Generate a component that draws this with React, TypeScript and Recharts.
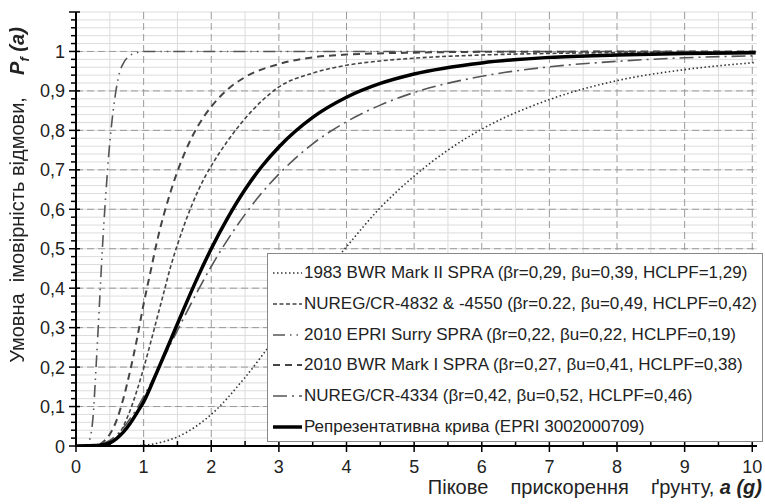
import React from 'react'
import { LineChart, Line, XAxis, YAxis, CartesianGrid } from 'recharts'

// 1983 BWR Mark II SPRA
const mk2X = [0, 0.8, 1, 1.25, 1.5, 1.75, 2, 2.5, 3, 3.5, 4, 4.5, 5, 5.5, 6, 7, 8, 9, 10.05]
const mk2Y = [0, 0.0005, 0.002, 0.009, 0.023, 0.047, 0.08, 0.174, 0.286, 0.4, 0.505, 0.604, 0.684, 0.75, 0.803, 0.878, 0.926, 0.954, 0.972]

// NUREG/CR-4832 & -4550
const nurX = [0, 0.4, 0.5, 0.6, 0.7, 0.8, 0.9, 1, 1.1, 1.2, 1.3, 1.4, 1.5, 1.6, 1.7, 1.8, 1.9, 2, 2.25, 2.5, 2.75, 3, 3.5, 4, 4.5, 5, 6, 7, 8, 10.05]
const nurY = [0, 0, 0.005, 0.02, 0.05, 0.09, 0.14, 0.197, 0.26, 0.325, 0.39, 0.455, 0.51, 0.56, 0.605, 0.645, 0.68, 0.71, 0.775, 0.83, 0.875, 0.91, 0.945, 0.965, 0.976, 0.983, 0.991, 0.995, 0.997, 0.999]

// 2010 EPRI Surry SPRA
const surX = [0, 0.1, 0.15, 0.2, 0.25, 0.3, 0.35, 0.4, 0.45, 0.5, 0.55, 0.6, 0.65, 0.7, 0.8, 0.9, 1, 2, 5, 10.05]
const surY = [0, 0, 0.002, 0.015, 0.07, 0.21, 0.37, 0.53, 0.66, 0.77, 0.85, 0.91, 0.95, 0.97, 0.99, 0.997, 1, 1, 1, 1]

// 2010 BWR Mark I SPRA
const mk1X = [0, 0.3, 0.4, 0.5, 0.6, 0.7, 0.8, 0.9, 1, 1.1, 1.2, 1.4, 1.6, 1.8, 2, 2.25, 2.5, 3, 3.5, 4, 5, 6, 10.05]
const mk1Y = [0, 0.002, 0.01, 0.03, 0.065, 0.12, 0.19, 0.27, 0.36, 0.44, 0.52, 0.645, 0.74, 0.81, 0.86, 0.905, 0.935, 0.968, 0.985, 0.992, 0.997, 0.999, 1]

// NUREG/CR-4334
const n4334X = [0, 0.3, 0.4, 0.5, 0.6, 0.7, 0.8, 0.9, 1, 1.2, 1.4, 1.6, 1.8, 2, 2.25, 2.5, 2.75, 3, 3.5, 4, 4.5, 5, 6, 7, 8, 9, 10.05]
const n4334Y = [0, 0.002, 0.006, 0.014, 0.028, 0.046, 0.069, 0.095, 0.125, 0.19, 0.259, 0.327, 0.393, 0.455, 0.525, 0.587, 0.642, 0.689, 0.766, 0.822, 0.864, 0.896, 0.937, 0.961, 0.975, 0.984, 0.989]

// Репрезентативна крива (EPRI 3002000709)
const repX = [0, 0.3, 0.4, 0.5, 0.6, 0.7, 0.8, 0.9, 1, 1.2, 1.4, 1.6, 1.8, 2, 2.25, 2.5, 2.75, 3, 3.5, 4, 4.5, 5, 6, 7, 8, 9, 10.05]
const repY = [0, 0.001, 0.003, 0.008, 0.019, 0.035, 0.057, 0.084, 0.112, 0.189, 0.269, 0.35, 0.428, 0.5, 0.58, 0.65, 0.709, 0.758, 0.833, 0.884, 0.919, 0.943, 0.971, 0.985, 0.991, 0.995, 0.997]

const xMajor = [0, 1, 2, 3, 4, 5, 6, 7, 8, 9, 10]
const xMinor = [0.5, 1.5, 2.5, 3.5, 4.5, 5.5, 6.5, 7.5, 8.5, 9.5]
const yMajor = [0, 0.1, 0.2, 0.3, 0.4, 0.5, 0.6, 0.7, 0.8, 0.9, 1, 1.1]
const yMinor = Array.from({ length: 56 }, (_, i) => +(i * 0.02).toFixed(2))

const FONT = '"Liberation Sans", Arial, sans-serif'
const TXT = '#222'

const zip = (xs: number[], ys: number[]) => xs.map((x, i) => ({ x, y: ys[i] }))

const series = [
  { name: '1983 BWR Mark II SPRA (βr=0,29, βu=0,39, HCLPF=1,29)', data: zip(mk2X, mk2Y), stroke: '#333', width: 1.6, dash: '1.5 2.5' },
  { name: 'NUREG/CR-4832 & -4550 (βr=0.22, βu=0,49, HCLPF=0,42)', data: zip(nurX, nurY), stroke: '#444', width: 1.6, dash: '4 2.5' },
  { name: '2010 EPRI Surry SPRA (βr=0,22, βu=0,22, HCLPF=0,19)', data: zip(surX, surY), stroke: '#555', width: 1.6, dash: '12 5 1.5 5 1.5 5' },
  { name: '2010 BWR Mark I SPRA (βr=0,27, βu=0,41, HCLPF=0,38)', data: zip(mk1X, mk1Y), stroke: '#444', width: 2, dash: '7 5' },
  { name: 'NUREG/CR-4334 (βr=0,42, βu=0,52, HCLPF=0,46)', data: zip(n4334X, n4334Y), stroke: '#555', width: 1.6, dash: '14 5 2 5' },
  { name: 'Репрезентативна крива (EPRI 3002000709)', data: zip(repX, repY), stroke: '#000', width: 3.5, dash: undefined as string | undefined },
]

const isMajorX = (v: number) => Math.abs(v - Math.round(v)) < 1e-6
const isMajorY = (v: number) => Math.abs(v * 10 - Math.round(v * 10)) < 1e-6

function XTick({ x, y, payload }: any) {
  const v = payload.value
  if (!isMajorX(v)) return <line x1={x} x2={x} y1={y - 5} y2={y} stroke="#000" strokeWidth={1.5} />
  return (
    <g>
      <line x1={x} x2={x} y1={y - 6} y2={y + 6} stroke="#000" strokeWidth={1.5} />
      <text x={x} y={y + 27} textAnchor="middle" fontSize={18} fill={TXT} fontFamily={FONT}>{v}</text>
    </g>
  )
}

function YTick({ x, y, payload }: any) {
  const v = payload.value
  if (!isMajorY(v)) return <line x1={x - 5} x2={x} y1={y} y2={y} stroke="#000" strokeWidth={1.5} />
  return (
    <g>
      <line x1={x - 7} x2={x + 4} y1={y} y2={y} stroke="#000" strokeWidth={1.5} />
      {v < 1.05 && (
        <text x={x - 11} y={y + 6.5} textAnchor="end" fontSize={18} fill={TXT} fontFamily={FONT}>
          {String(+v.toFixed(1)).replace('.', ',')}
        </text>
      )}
    </g>
  )
}

function LegendBox() {
  return (
    <div style={{
      position: 'absolute', left: 267, top: 253, width: 496, height: 189,
      background: '#fff', border: '1px solid #888', boxSizing: 'border-box',
      fontFamily: FONT, fontSize: 17, color: TXT,
    }}>
      {series.map((s, i) => (
        <div key={s.name} style={{ position: 'absolute', left: 3, top: 7 + i * 30.8, height: 24, display: 'flex', alignItems: 'center', whiteSpace: 'nowrap' }}>
          <svg width={32} height={10} style={{ marginRight: 1 }}>
            <line x1={2} x2={31} y1={5} y2={5} stroke={s.stroke} strokeWidth={s.width} strokeDasharray={s.dash} />
          </svg>
          <span>{s.name}</span>
        </div>
      ))}
    </div>
  )
}

export default function App() {
  return (
    <div style={{ position: 'fixed', left: 0, top: 0, width: 765, height: 504, background: '#fff' }}>
      <LineChart width={765} height={504} margin={{ top: 12, right: 8, bottom: 28, left: 16 }}>
        <CartesianGrid horizontalValues={yMinor} verticalValues={xMinor} stroke="#dcdcdc" strokeWidth={1} />
        <CartesianGrid horizontalValues={yMajor.slice(1, 11)} verticalValues={xMajor.slice(1)} stroke="#9a9a9a" strokeDasharray="7 4" strokeWidth={1} />
        <XAxis type="number" dataKey="x" domain={[0, 10.07]} ticks={[...xMajor, ...xMinor].sort((a, b) => a - b)}
          height={30} allowDataOverflow tickSize={0} tickMargin={0} tickLine={false} tick={<XTick />}
          axisLine={{ stroke: '#000', strokeWidth: 2 }} interval={0} />
        <YAxis type="number" domain={[0, 1.1]} ticks={yMinor} width={60} allowDataOverflow tickSize={0} tickMargin={0}
          tickLine={false} tick={<YTick />} axisLine={{ stroke: '#000', strokeWidth: 2 }} interval={0} />
        {series.map((s) => (
          <Line key={s.name} data={s.data} dataKey="y" type="monotone" dot={false} activeDot={false}
            stroke={s.stroke} strokeWidth={s.width} strokeDasharray={s.dash} isAnimationActive={false} />
        ))}
      </LineChart>
      <LegendBox />
      <div style={{
        position: 'absolute', left: 17 - 220, top: 195 - 12, width: 440, height: 24, lineHeight: '24px',
        textAlign: 'center', transform: 'rotate(-90deg)', fontFamily: FONT, fontSize: 20, color: TXT, whiteSpace: 'pre',
      }}>
        {'Умовна  імовірність відмови,    '}
        <b><i>P</i></b><b><i><sub style={{ fontSize: 13 }}>f</sub></i></b><b><i>{' (a)'}</i></b>
      </div>
      <div style={{
        position: 'absolute', right: 3, top: 476, fontFamily: FONT, fontSize: 20, color: TXT, whiteSpace: 'pre',
      }}>
        {'Пікове    прискорення    ґрунту, '}<b><i>a (g)</i></b>
      </div>
    </div>
  )
}
